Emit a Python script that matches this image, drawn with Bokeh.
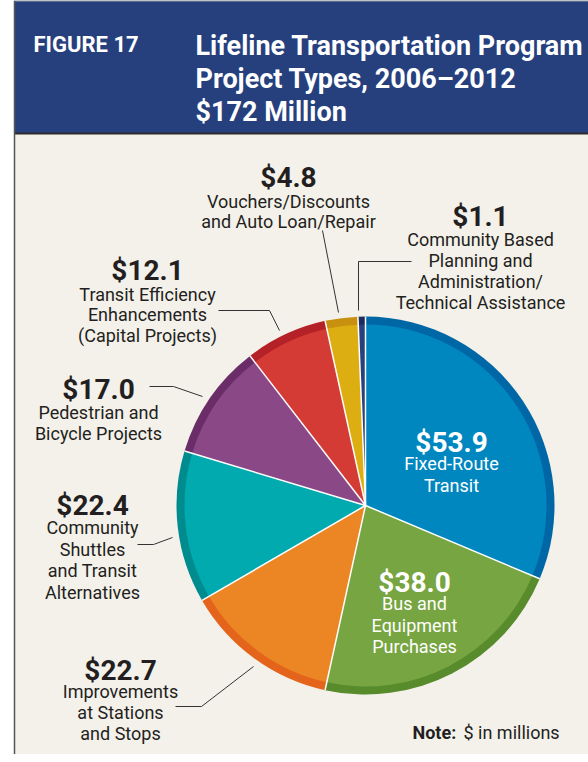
import numpy as np
from bokeh.plotting import figure
from bokeh.models import Range1d, ColumnDataSource
from bokeh.core.properties import value
from bokeh.embed import file_html
from bokeh.resources import INLINE

# ---------------- data ----------------
categories = [
    "Fixed-Route Transit",
    "Bus and Equipment Purchases",
    "Improvements at Stations and Stops",
    "Community Shuttles and Transit Alternatives",
    "Pedestrian and Bicycle Projects",
    "Transit Efficiency Enhancements (Capital Projects)",
    "Vouchers/Discounts and Auto Loan/Repair",
    "Community Based Planning and Administration/Technical Assistance",
]
amounts = [53.9, 38.0, 22.7, 22.4, 17.0, 12.1, 4.8, 1.1]
label_lines = [
    ["Fixed-Route", "Transit"],
    ["Bus and", "Equipment", "Purchases"],
    ["Improvements", "at Stations", "and Stops"],
    ["Community", "Shuttles", "and Transit", "Alternatives"],
    ["Pedestrian and", "Bicycle Projects"],
    ["Transit Efficiency", "Enhancements", "(Capital Projects)"],
    ["Vouchers/Discounts", "and Auto Loan/Repair"],
    ["Community Based", "Planning and", "Administration/", "Technical Assistance"],
]
fill_colors = ["#0087c0", "#77a541", "#ec8524", "#00aaae", "#8a4887", "#d33b34", "#ddae12", "#27417f"]
rim_colors = ["#0067a6", "#578b2b", "#e3641a", "#008c8f", "#6a2d68", "#b42126", "#c8900f", "#1b2b60"]
inside_label = [True, True, False, False, False, False, False, False]

fig_label = "FIGURE 17"
title_lines = ["Lifeline Transportation Program", "Project Types, 2006\u20132012", "$172 Million"]
note_bold = "Note:"
note_text = "$ in millions"

# ---------------- layout (page pixel coordinates) ----------------
W, H = 588, 754
p = figure(width=W, height=H, x_range=Range1d(0, 588), y_range=Range1d(-762, -8),
           output_backend="svg", toolbar_location=None, min_border=0)
p.axis.visible = False
p.grid.visible = False
p.outline_line_color = None
p.background_fill_color = "white"
p.border_fill_color = "white"

HEADER = "#26407e"
PANEL = "#f4f1eb"
TXT = "#231f20"
LABEL_FONT = value("Roboto")

# frame
p.quad(left=14, right=600, top=-8, bottom=-141, fill_color=HEADER, line_color=None)
p.quad(left=14, right=600, top=-141, bottom=-780, fill_color=PANEL, line_color=None)
p.segment(x0=[14], y0=[-8.5], x1=[600], y1=[-8.5], line_color="#9a9a9a", line_width=1)
p.segment(x0=[14], y0=[-141], x1=[600], y1=[-141], line_color="#2b2b2b", line_width=2)
p.segment(x0=[14], y0=[-8], x1=[14], y1=[-780], line_color="#555555", line_width=1.5)

# header texts
p.text(x=[33], y=[-52], text=[fig_label], text_color="white", text_font=LABEL_FONT,
       text_font_size="22px", text_font_style="bold", text_baseline="alphabetic", text_align="left")
p.text(x=[195] * 3, y=[-53, -86, -119], text=title_lines, text_color="white", text_font=LABEL_FONT,
       text_font_size="27px", text_font_style="bold", text_baseline="alphabetic", text_align="left")

# ---------------- pie ----------------
cx, cy, R, r_in = 365, -513, 189, 181
total = sum(amounts)
cum = np.concatenate([[0], np.cumsum(amounts)])
starts = np.pi / 2 - 2 * np.pi * cum[:-1] / total
ends = np.pi / 2 - 2 * np.pi * cum[1:] / total
src = ColumnDataSource(dict(start=starts, end=ends, fill=fill_colors, rim=rim_colors, cat=categories))
p.wedge(x=cx, y=cy, radius=R, start_angle="start", end_angle="end", direction="clock",
        fill_color="rim", line_color=None, source=src)
p.wedge(x=cx, y=cy, radius=r_in, start_angle="start", end_angle="end", direction="clock",
        fill_color="fill", line_color=None, source=src)
b = starts
p.segment(x0=[cx] * len(b), y0=[cy] * len(b), x1=list(cx + R * np.cos(b)), y1=list(cy + R * np.sin(b)),
          line_color="white", line_width=1.5)

# ---------------- labels ----------------
# (center x, baseline of value, first line baseline, line step)
label_pos = [
    (451, 450, 471, 22),
    (414, 590, 611, 21.5),
    (120, 678, 699, 21),
    (92, 513, 535, 21.5),
    (98, 397, 420, 20.5),
    (147, 278, 302, 20.3),
    (288, 185, 209, 20),
    (480, 224, 247, 21),
]
for i, amt in enumerate(amounts):
    x0, yv, y1, step = label_pos[i]
    col = "white" if inside_label[i] else TXT
    p.text(x=[x0], y=[-yv], text=[f"${amt:.1f}"], text_color=col, text_font=LABEL_FONT,
           text_font_size="28px", text_font_style="bold", text_align="center", text_baseline="alphabetic")
    lines = label_lines[i]
    p.text(x=[x0] * len(lines), y=[-(y1 + k * step) for k in range(len(lines))], text=lines,
           text_color=col, text_font=LABEL_FONT, text_font_size="18px",
           text_align="center", text_baseline="alphabetic")

# leader lines
leaders = [
    [(175, 714), (201, 714), (253, 674)],
    [(137, 552), (153, 552), (172, 545)],
    [(149, 394), (173, 394), (202, 404)],
    [(218, 318), (269, 318), (279, 338)],
    [(322, 238), (338, 320)],
    [(411, 269), (358, 269), (358, 318)],
]
p.multi_line(xs=[[pt[0] for pt in L] for L in leaders], ys=[[-pt[1] for pt in L] for L in leaders],
             line_color="#333333", line_width=1)

# note
p.text(x=[412], y=[-740], text=[note_bold], text_color=TXT, text_font=LABEL_FONT, text_font_size="18px",
       text_font_style="bold", text_align="left", text_baseline="alphabetic")
p.text(x=[463], y=[-740], text=[note_text], text_color=TXT, text_font=LABEL_FONT, text_font_size="18px",
       text_align="left", text_baseline="alphabetic")

open("out.html", "w").write(file_html(p, INLINE))
